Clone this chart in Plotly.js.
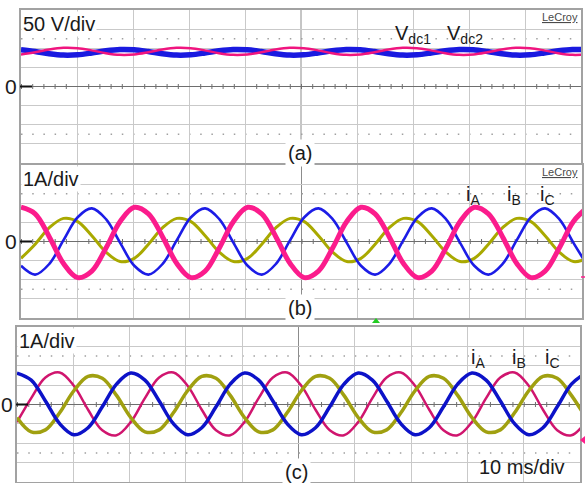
<!DOCTYPE html>
<html><head><meta charset="utf-8">
<script src="https://cdn.plot.ly/plotly-3.0.1.min.js"></script>
<style>html,body{margin:0;padding:0;background:#fff;}#chart{width:585px;height:483px;}</style>
</head><body><div id="chart"></div>
<script>
// time axis, ms (10 ms/div, 10 divisions)
const time_ms = [0, 2.525, 5.05, 7.575, 10.1, 12.625, 15.15, 17.675, 20.2, 22.725, 25.25, 27.775, 30.3, 32.825, 35.35, 37.875, 40.4, 42.925, 45.45, 47.975, 50.5, 53.025, 55.55, 58.075, 60.6, 63.125, 65.65, 68.175, 70.7, 73.225, 75.75, 78.275, 80.8, 83.325, 85.85, 88.375, 90.9, 93.425, 95.95, 98.475, 101];

// (a) DC-link voltages, V (50 V/div)
const vdc1 = [96.0, 91.4, 85.7, 82.2, 83.0, 87.6, 93.3, 96.8, 96.0, 91.4, 85.7, 82.2, 83.0, 87.6, 93.3, 96.8, 96.0, 91.4, 85.7, 82.2, 83.0, 87.6, 93.3, 96.8, 96.0, 91.4, 85.7, 82.2, 83.0, 87.6, 93.3, 96.8, 96.0, 91.4, 85.7, 82.2, 83.0, 87.6, 93.3, 96.8, 96.0];
const vdc2 = [83.8, 89.6, 96.8, 101.2, 100.2, 94.4, 87.2, 82.8, 83.8, 89.6, 96.8, 101.2, 100.2, 94.4, 87.2, 82.8, 83.8, 89.6, 96.8, 101.2, 100.2, 94.4, 87.2, 82.8, 83.8, 89.6, 96.8, 101.2, 100.2, 94.4, 87.2, 82.8, 83.8, 89.6, 96.8, 101.2, 100.2, 94.4, 87.2, 82.8, 83.8];

// (b) phase currents, A (1 A/div)
const iA_b = [1.79, 1.45, 0.24, -1.15, -1.89, -1.55, -0.34, 1.05, 1.79, 1.45, 0.24, -1.15, -1.89, -1.55, -0.34, 1.05, 1.79, 1.45, 0.24, -1.15, -1.89, -1.55, -0.34, 1.05, 1.79, 1.45, 0.24, -1.15, -1.89, -1.55, -0.34, 1.05, 1.79, 1.45, 0.24, -1.15, -1.89, -1.55, -0.34, 1.05, 1.79];
const iB_b = [-0.88, -0.14, 0.72, 1.21, 1.04, 0.30, -0.56, -1.05, -0.88, -0.14, 0.72, 1.21, 1.04, 0.30, -0.56, -1.05, -0.88, -0.14, 0.72, 1.21, 1.04, 0.30, -0.56, -1.05, -0.88, -0.14, 0.72, 1.21, 1.04, 0.30, -0.56, -1.05, -0.88, -0.14, 0.72, 1.21, 1.04, 0.30, -0.56, -1.05, -0.88];
const iC_b = [-1.27, -1.73, -1.17, 0.07, 1.27, 1.73, 1.17, -0.07, -1.27, -1.73, -1.17, 0.07, 1.27, 1.73, 1.17, -0.07, -1.27, -1.73, -1.17, 0.07, 1.27, 1.73, 1.17, -0.07, -1.27, -1.73, -1.17, 0.07, 1.27, 1.73, 1.17, -0.07, -1.27, -1.73, -1.17, 0.07, 1.27, 1.73, 1.17, -0.07, -1.27];

// (c) phase currents, A (1 A/div)
const iA_c = [1.62, 1.26, 0.18, -0.99, -1.56, -1.20, -0.12, 1.05, 1.62, 1.26, 0.18, -0.99, -1.56, -1.20, -0.12, 1.05, 1.62, 1.26, 0.18, -0.99, -1.56, -1.20, -0.12, 1.05, 1.62, 1.26, 0.18, -0.99, -1.56, -1.20, -0.12, 1.05, 1.62, 1.26, 0.18, -0.99, -1.56, -1.20, -0.12, 1.05, 1.62];
const iB_c = [-0.91, 0.33, 1.39, 1.65, 0.97, -0.27, -1.33, -1.59, -0.91, 0.33, 1.39, 1.65, 0.97, -0.27, -1.33, -1.59, -0.91, 0.33, 1.39, 1.65, 0.97, -0.27, -1.33, -1.59, -0.91, 0.33, 1.39, 1.65, 0.97, -0.27, -1.33, -1.59, -0.91, 0.33, 1.39, 1.65, 0.97, -0.27, -1.33, -1.59, -0.91];
const iC_c = [-0.67, -1.41, -1.31, -0.43, 0.71, 1.45, 1.35, 0.47, -0.67, -1.41, -1.31, -0.43, 0.71, 1.45, 1.35, 0.47, -0.67, -1.41, -1.31, -0.43, 0.71, 1.45, 1.35, 0.47, -0.67, -1.41, -1.31, -0.43, 0.71, 1.45, 1.35, 0.47, -0.67, -1.41, -1.31, -0.43, 0.71, 1.45, 1.35, 0.47, -0.67];

// text labels
const scaleLabels = ['50 V/div', '1A/div', '1A/div'];
const panelLabels = ['(a)', '(b)', '(c)'];
const timeLabel = '10 ms/div';
const vLabels = ['V<sub>dc1</sub>', 'V<sub>dc2</sub>'];
const iLabels = ['i<sub>A</sub>', 'i<sub>B</sub>', 'i<sub>C</sub>'];

// ---------- layout helpers ----------
const W = 585, H = 483;
const px = x => x / W;
const py = y => 1 - y / H;
const FONT = 'Liberation Sans, Arial, sans-serif';
const TXT = '#1a1a1a';

const frames = [
  {l: 21, r: 581, t: 10, b: 163, div: 50},
  {l: 21, r: 582, t: 165, b: 318, div: 1},
  {l: 17, r: 580, t: 327, b: 482, div: 1}
];

const layout = {
  width: W, height: H,
  margin: {l: 0, r: 0, t: 0, b: 0},
  paper_bgcolor: '#fff', plot_bgcolor: '#fff',
  showlegend: false,
  font: {family: FONT, color: TXT},
  shapes: [], annotations: []
};

frames.forEach((f, i) => {
  const s = i === 0 ? '' : String(i + 1);
  const d = f.div;
  layout['xaxis' + s] = {
    domain: [px(f.l), px(f.r)], range: [0, 100], anchor: 'y' + s,
    tickmode: 'array', tickvals: [10, 20, 30, 40, 60, 70, 80, 90],
    showticklabels: false, ticks: '', showgrid: true, gridcolor: '#c9c9c9', gridwidth: 1,
    zeroline: false, showline: true, mirror: true, linecolor: '#a2a2a2', linewidth: 2,
    fixedrange: true
  };
  layout['yaxis' + s] = {
    domain: [py(f.b), py(f.t)], range: [-4 * d, 4 * d], anchor: 'x' + s,
    tickmode: 'array', tickvals: [-3 * d, -2 * d, -d, d, 2 * d, 3 * d],
    showticklabels: false, ticks: '', showgrid: true, gridcolor: '#c9c9c9', gridwidth: 1,
    zeroline: true, zerolinecolor: '#6e6e6e', zerolinewidth: 1.5,
    showline: true, mirror: true, linecolor: '#a2a2a2', linewidth: 2,
    fixedrange: true
  };
  const xr = 'x' + s, yr = 'y' + s;
  layout.shapes.push({type: 'line', xref: xr, yref: yr, x0: 50, x1: 50, y0: -4 * d, y1: 4 * d,
    line: {color: '#8c8c8c', width: 1}, layer: 'below'});
  const spacing = (f.r - f.l) / 50;
  layout.shapes.push({type: 'line', xref: xr, yref: yr, x0: 0, x1: 100, y0: 0, y1: 0,
    line: {color: '#6e6e6e', width: 5, dash: '1px,' + (spacing - 1).toFixed(2) + 'px'}, layer: 'below'});
  [2.5, -2.5].forEach(v => layout.shapes.push({type: 'line', xref: xr, yref: yr, x0: 0, x1: 100,
    y0: v * d, y1: v * d, line: {color: '#a0a0a0', width: 1.5, dash: '1.5px,' + (spacing - 1.5).toFixed(2) + 'px'}, layer: 'below'}));
  layout.shapes.push({type: 'line', xref: 'paper', yref: yr, x0: px(f.l - 1), x1: px(f.l + 11), y0: 0, y1: 0,
    line: {color: '#111', width: 2}});
  layout.annotations.push({xref: 'paper', yref: yr, x: px(f.l - 2), y: 0, xanchor: 'right', yanchor: 'middle',
    text: '0', showarrow: false, font: {size: 21, color: TXT}});
  layout.annotations.push({xref: 'paper', yref: 'paper', x: px(f.l), y: py(f.t + 1), xanchor: 'left', yanchor: 'top',
    text: scaleLabels[i], showarrow: false, font: {size: 20, color: TXT}, bgcolor: '#fff', borderpad: 1});
  layout.annotations.push({xref: 'paper', yref: 'paper', x: px(i === 2 ? 296 : 300), y: py(f.b + 4), xanchor: 'center', yanchor: 'bottom',
    text: panelLabels[i], showarrow: false, font: {size: 20, color: TXT}, bgcolor: '#fff', borderpad: 2});
});

// white patches hiding the dotted rows behind the channel labels
const patch = (x0, x1, y0, y1) => layout.shapes.push({type: 'rect', xref: 'paper', yref: 'paper',
  x0: px(x0), x1: px(x1), y0: py(y1), y1: py(y0), fillcolor: '#fff', line: {width: 0}, layer: 'below'});
patch(390, 490, 33, 44);
patch(460, 566, 188, 198);
patch(465, 568, 352, 362);
patch(472, 579, 450, 478);

// LeCroy marks
[17, 172].forEach(y => layout.annotations.push({xref: 'paper', yref: 'paper', x: px(580), y: py(y), xanchor: 'right', yanchor: 'middle',
  text: '<u>LeCroy</u>', showarrow: false, font: {size: 11, color: '#4a4a4a'}}));

// channel labels
const lab = (text, x, y) => layout.annotations.push({xref: 'paper', yref: 'paper', x: px(x), y: py(y), xanchor: 'left', yanchor: 'middle',
  text: text, showarrow: false, font: {size: 20, color: TXT}});
lab(vLabels[0], 393, 35);
lab(vLabels[1], 445, 35);
lab(iLabels[0], 464, 195);
lab(iLabels[1], 505, 195);
lab(iLabels[2], 538, 195);
lab(iLabels[0], 469, 358);
lab(iLabels[1], 510, 358);
lab(iLabels[2], 543, 358);
layout.annotations.push({xref: 'paper', yref: 'paper', x: px(477), y: py(467), xanchor: 'left', yanchor: 'middle',
  text: timeLabel, showarrow: false, font: {size: 20, color: TXT}});

// scope markers
const path = pts => 'M ' + pts.map(p => px(p[0]) + ',' + py(p[1])).join(' L ') + ' Z';
layout.shapes.push({type: 'path', xref: 'paper', yref: 'paper', path: path([[376, 318], [372, 323], [380, 323]]),
  fillcolor: '#22cc22', line: {width: 0}});
layout.shapes.push({type: 'path', xref: 'paper', yref: 'paper', path: path([[580, 440], [585, 436], [585, 444]]),
  fillcolor: '#ff1e8c', line: {width: 0}});
layout.shapes.push({type: 'line', xref: 'paper', yref: 'paper', x0: px(581), x1: px(585), y0: py(277), y1: py(277),
  line: {color: '#ff1e8c', width: 1.5}});

const tr = (y, xa, ya, color, width) => ({x: time_ms, y: y, xaxis: xa, yaxis: ya, type: 'scatter', mode: 'lines',
  line: {color: color, width: width, shape: 'spline', smoothing: 1}, hoverinfo: 'skip'});

const data = [
  tr(vdc1, 'x', 'y', '#1a1ae0', 5.5),
  tr(vdc2, 'x', 'y', '#f0157f', 2.5),
  tr(iB_b, 'x2', 'y2', '#a9a900', 3),
  tr(iC_b, 'x2', 'y2', '#1c1ce6', 2.6),
  tr(iA_b, 'x2', 'y2', '#fb1c8c', 5),
  tr(iB_c, 'x3', 'y3', '#d0156e', 2.5),
  tr(iC_c, 'x3', 'y3', '#a0a010', 3.5),
  tr(iA_c, 'x3', 'y3', '#0c12c8', 3.5)
];

Plotly.newPlot('chart', data, layout, {staticPlot: true, displayModeBar: false});
</script>
</body></html>
